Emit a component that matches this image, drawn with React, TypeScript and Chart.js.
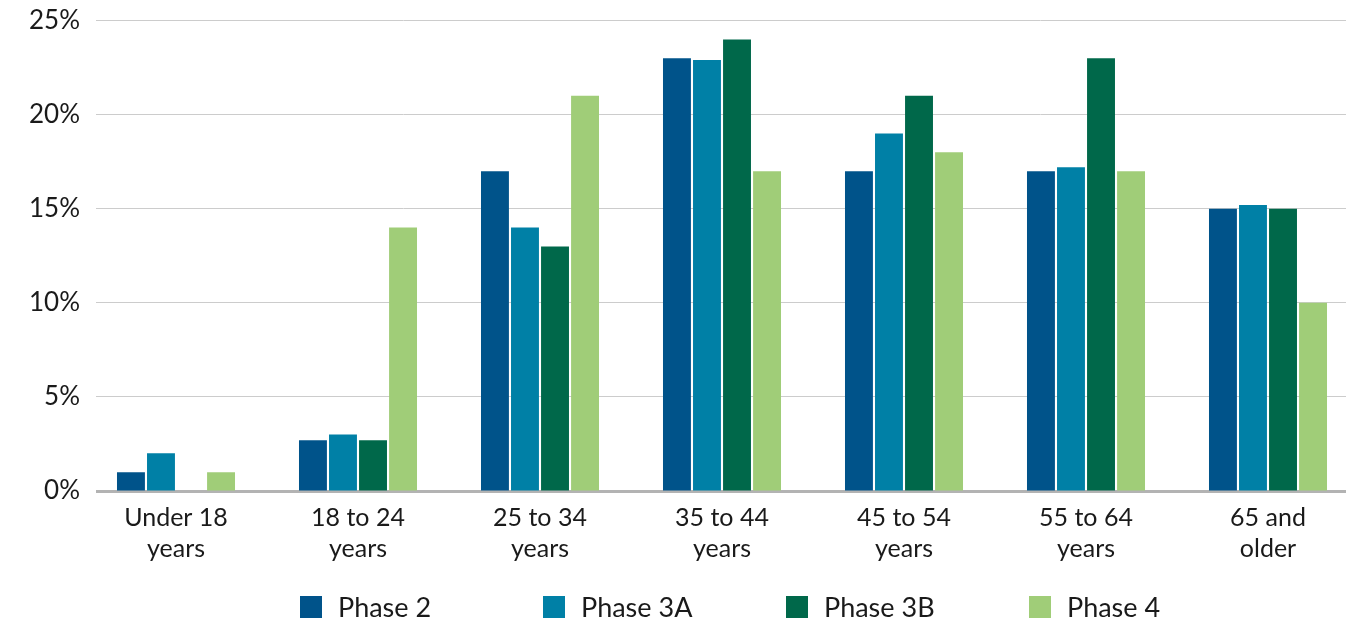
import { useEffect, useRef } from "react";
import { Chart, registerables } from "chart.js";

Chart.register(...registerables);

const categories: string[][] = [
  ["Under 18", "years"],
  ["18 to 24", "years"],
  ["25 to 34", "years"],
  ["35 to 44", "years"],
  ["45 to 54", "years"],
  ["55 to 64", "years"],
  ["65 and", "older"],
];
const seriesNames = ["Phase 2", "Phase 3A", "Phase 3B", "Phase 4"];
const phase2 = [1, 2.7, 17, 23, 17, 17, 15];
const phase3A = [2, 3, 14, 22.9, 19, 17.2, 15.2];
const phase3B = [null, 2.7, 13, 24, 21, 23, 15];
const phase4 = [1, 14, 21, 17, 18, 17, 10];
const seriesColors = ["#00538A", "#0080A6", "#00684A", "#A0CD78"];
const yMax = 25;
const yStep = 5;

const FONT = "Lato, 'Noto Sans', sans-serif";

// trims the grid/axis lines so they span a slightly narrower band than the category area
const gridTrimPlugin = {
  id: "gridTrim",
  beforeDatasetsDraw(chart: any) {
    const { ctx, chartArea } = chart;
    ctx.save();
    ctx.fillStyle = "#ffffff";
    ctx.fillRect(chartArea.left - 2, chartArea.top - 3, 13, chartArea.bottom - chartArea.top + 8);
    ctx.fillRect(chartArea.right - 13, chartArea.top - 3, 15, chartArea.bottom - chartArea.top + 8);
    ctx.restore();
  },
};

const legendPlugin = {
  id: "customLegend",
  afterDraw(chart: any) {
    const ctx = chart.ctx;
    ctx.save();
    const startX = 300;
    const step = 243;
    const cy = 607;
    const box = 22;
    ctx.font = `27px ${FONT}`;
    ctx.textBaseline = "middle";
    ctx.textAlign = "left";
    seriesNames.forEach((name, i) => {
      const x = startX + i * step;
      ctx.fillStyle = seriesColors[i];
      ctx.fillRect(x, cy - box / 2, box, box);
      ctx.fillStyle = "#1a1a1a";
      ctx.fillText(name, x + box + 16, cy + 1);
    });
    ctx.restore();
  },
};

export default function App() {
  const ref = useRef<HTMLCanvasElement | null>(null);
  useEffect(() => {
    document.body.style.margin = "0";
    if (!ref.current) return;
    const data = [phase2, phase3A, phase3B, phase4];
    const chart = new Chart(ref.current, {
      type: "bar",
      data: {
        labels: categories,
        datasets: seriesNames.map((name, i) => ({
          label: name,
          data: data[i] as any,
          backgroundColor: seriesColors[i],
          borderWidth: 0,
          categoryPercentage: 0.66,
          barPercentage: 0.93,
        })),
      },
      plugins: [gridTrimPlugin, legendPlugin],
      options: {
        animation: false,
        responsive: true,
        maintainAspectRatio: false,
        layout: { padding: { left: 0, right: 6, top: 0, bottom: 45 } },
        plugins: {
          legend: { display: false },
          tooltip: { enabled: false },
        },
        scales: {
          x: {
            grid: { display: false, drawTicks: false },
            border: { display: true, color: "#b3b3b3", width: 3 },
            ticks: {
              color: "#1a1a1a",
              font: { family: FONT, size: 25, lineHeight: 1.22 },
              padding: 12,
              maxRotation: 0,
              autoSkip: false,
            },
          },
          y: {
            min: 0,
            max: yMax,
            grid: { color: "#cccccc", lineWidth: 1, drawTicks: false },
            border: { display: false },
            ticks: {
              stepSize: yStep,
              color: "#1a1a1a",
              font: { family: FONT, size: 26 },
              padding: 5,
              callback: (v: any) => `${v}%`,
            },
            afterFit: (s: any) => {
              s.width = 85;
            },
          },
        },
      },
    });
    return () => chart.destroy();
  }, []);
  return (
    <div style={{ position: "relative", width: 1365, height: 621 }}>
      <canvas ref={ref} />
    </div>
  );
}
